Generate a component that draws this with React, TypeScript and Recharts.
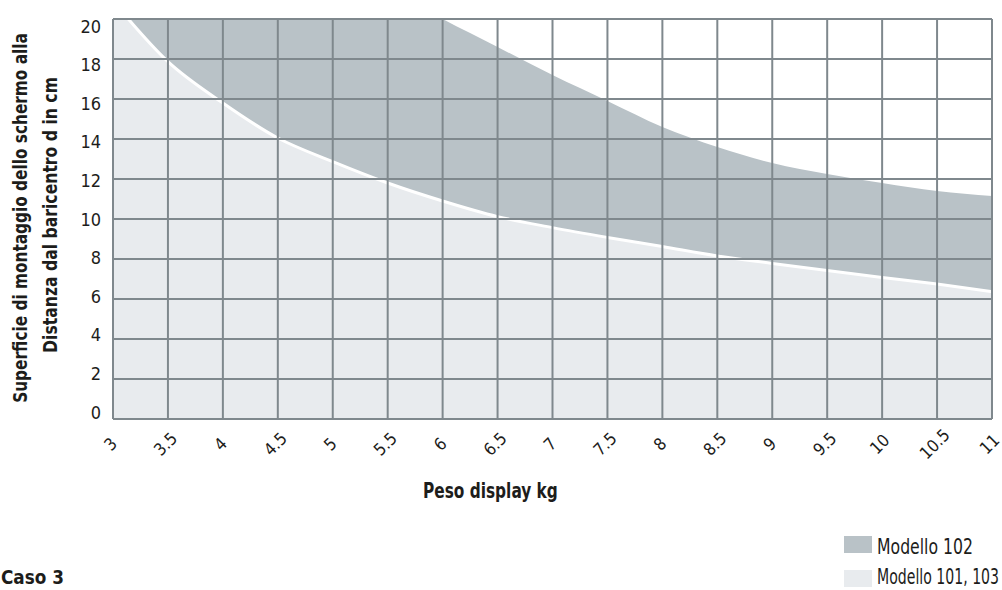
import { ComposedChart, Area, XAxis, YAxis, ReferenceLine } from 'recharts';

const FONT = "'DejaVu Sans Condensed', 'Liberation Sans Narrow', 'Roboto', sans-serif";

// peso display (kg)
const pesoKg = [3, 3.5, 4, 4.5, 5, 5.5, 6, 6.5, 7, 7.5, 8, 8.5, 9, 9.5, 10, 10.5, 11];
// upper limit, Modello 102 (cm)
const modello102 = [32, 29.5, 27, 25, 23.2, 21.5, 20, 18.6, 17.2, 15.9, 14.6, 13.6, 12.8, 12.25, 11.8, 11.4, 11.15];
// upper limit, Modello 101, 103 (cm)
const modello101 = [20.9, 17.87, 15.8, 14.05, 12.87, 11.8, 10.9, 10.12, 9.57, 9.08, 8.62, 8.15, 7.78, 7.42, 7.08, 6.75, 6.37];
const yTicks = [0, 2, 4, 6, 8, 10, 12, 14, 16, 18, 20];

const data = pesoKg.map((peso, i) => ({ peso, m102: modello102[i], m101: modello101[i] }));

const DARK = '#b9c2c7';
const LIGHT = '#e8ebee';
const GRID = '#7f888d';
const INK = '#1d1d1b';

const PLOT_MID = 219;

let ctx: CanvasRenderingContext2D | null = null;
const measure = (text: string, size: number, weight: string) => {
  if (!ctx) ctx = document.createElement('canvas').getContext('2d');
  if (!ctx) return text.length * size * 0.5;
  ctx.font = `${weight} ${size}px ${FONT}`;
  return ctx.measureText(text).width;
};

// text squeezed horizontally to the width it has in the original (condensed face)
const FitText = ({ x, y, width, size, weight = 'normal', rotate = 0, anchor = 'start', children }: any) => {
  const s = width / measure(children, size, weight);
  return (
    <text
      transform={`translate(${x} ${y}) rotate(${rotate}) scale(${s.toFixed(3)} 1)`}
      textAnchor={anchor}
      fontSize={size}
      fontWeight={weight}
    >
      {children}
    </text>
  );
};

const XTick = ({ x, y, payload }: any) => {
  const cx = x - 2.5;
  const cy = y + 25;
  return (
    <text
      x={cx}
      y={cy}
      textAnchor="middle"
      dominantBaseline="central"
      transform={`rotate(-45 ${cx} ${cy})`}
      fontSize={17}
      fontFamily={FONT}
      fill={INK}
    >
      {payload.value}
    </text>
  );
};

const YTick = ({ x, y, payload }: any) => {
  const ty = PLOT_MID + (y - PLOT_MID) * 0.965;
  return (
    <text x={x} y={ty} textAnchor="end" dominantBaseline="central" fontSize={18} fontFamily={FONT} fill={INK}>
      {payload.value}
    </text>
  );
};

export default function App() {
  return (
    <div
      style={{
        position: 'fixed',
        left: 0,
        top: 0,
        width: 1002,
        height: 590,
        overflow: 'hidden',
        background: '#fff',
      }}
    >
      <ComposedChart width={1002} height={590} data={data} margin={{ top: 19, right: 10, left: 0, bottom: 0 }}>
        <XAxis
          dataKey="peso"
          type="number"
          domain={[3, 11]}
          ticks={pesoKg}
          interval={0}
          axisLine={false}
          tickLine={false}
          tickSize={0}
          tickMargin={0}
          height={171}
          tick={<XTick />}
        />
        <YAxis
          type="number"
          domain={[0, 20]}
          ticks={yTicks}
          allowDataOverflow
          axisLine={false}
          tickLine={false}
          tickSize={0}
          tickMargin={12}
          width={113}
          tick={<YTick />}
        />
        <Area
          type="monotone"
          dataKey="m102"
          fill={DARK}
          fillOpacity={1}
          stroke="none"
          isAnimationActive={false}
        />
        <Area
          type="monotone"
          dataKey="m101"
          fill={LIGHT}
          fillOpacity={1}
          stroke="#ffffff"
          strokeWidth={3}
          isAnimationActive={false}
        />
        {pesoKg.map((p) => (
          <ReferenceLine key={`v${p}`} x={p} stroke={GRID} strokeWidth={2} />
        ))}
        {yTicks.map((t) => (
          <ReferenceLine key={`h${t}`} y={t} stroke={GRID} strokeWidth={2} />
        ))}
      </ComposedChart>

      <svg
        width={1002}
        height={590}
        style={{ position: 'absolute', left: 0, top: 0, pointerEvents: 'none' }}
        fontFamily={FONT}
        fill={INK}
      >
        {/* y axis title */}
        <FitText x={27} y={218} rotate={-90} anchor="middle" width={370} size={19} weight="bold">
          Superficie di montaggio dello schermo alla
        </FitText>
        <FitText x={57} y={215} rotate={-90} anchor="middle" width={276} size={19} weight="bold">
          Distanza dal baricentro d in cm
        </FitText>

        {/* x axis title */}
        <FitText x={423} y={498} width={135} size={21} weight="bold">
          Peso display kg
        </FitText>

        {/* legend */}
        <rect x={844} y={536} width={28} height={17} fill={DARK} />
        <FitText x={877} y={554} width={96} size={21}>
          Modello 102
        </FitText>
        <rect x={844} y={570} width={28} height={17} fill={LIGHT} />
        <FitText x={877} y={584} width={122} size={21}>
          Modello 101, 103
        </FitText>

        <FitText x={1} y={584} width={63} size={19} weight="bold">
          Caso 3
        </FitText>
      </svg>
    </div>
  );
}
